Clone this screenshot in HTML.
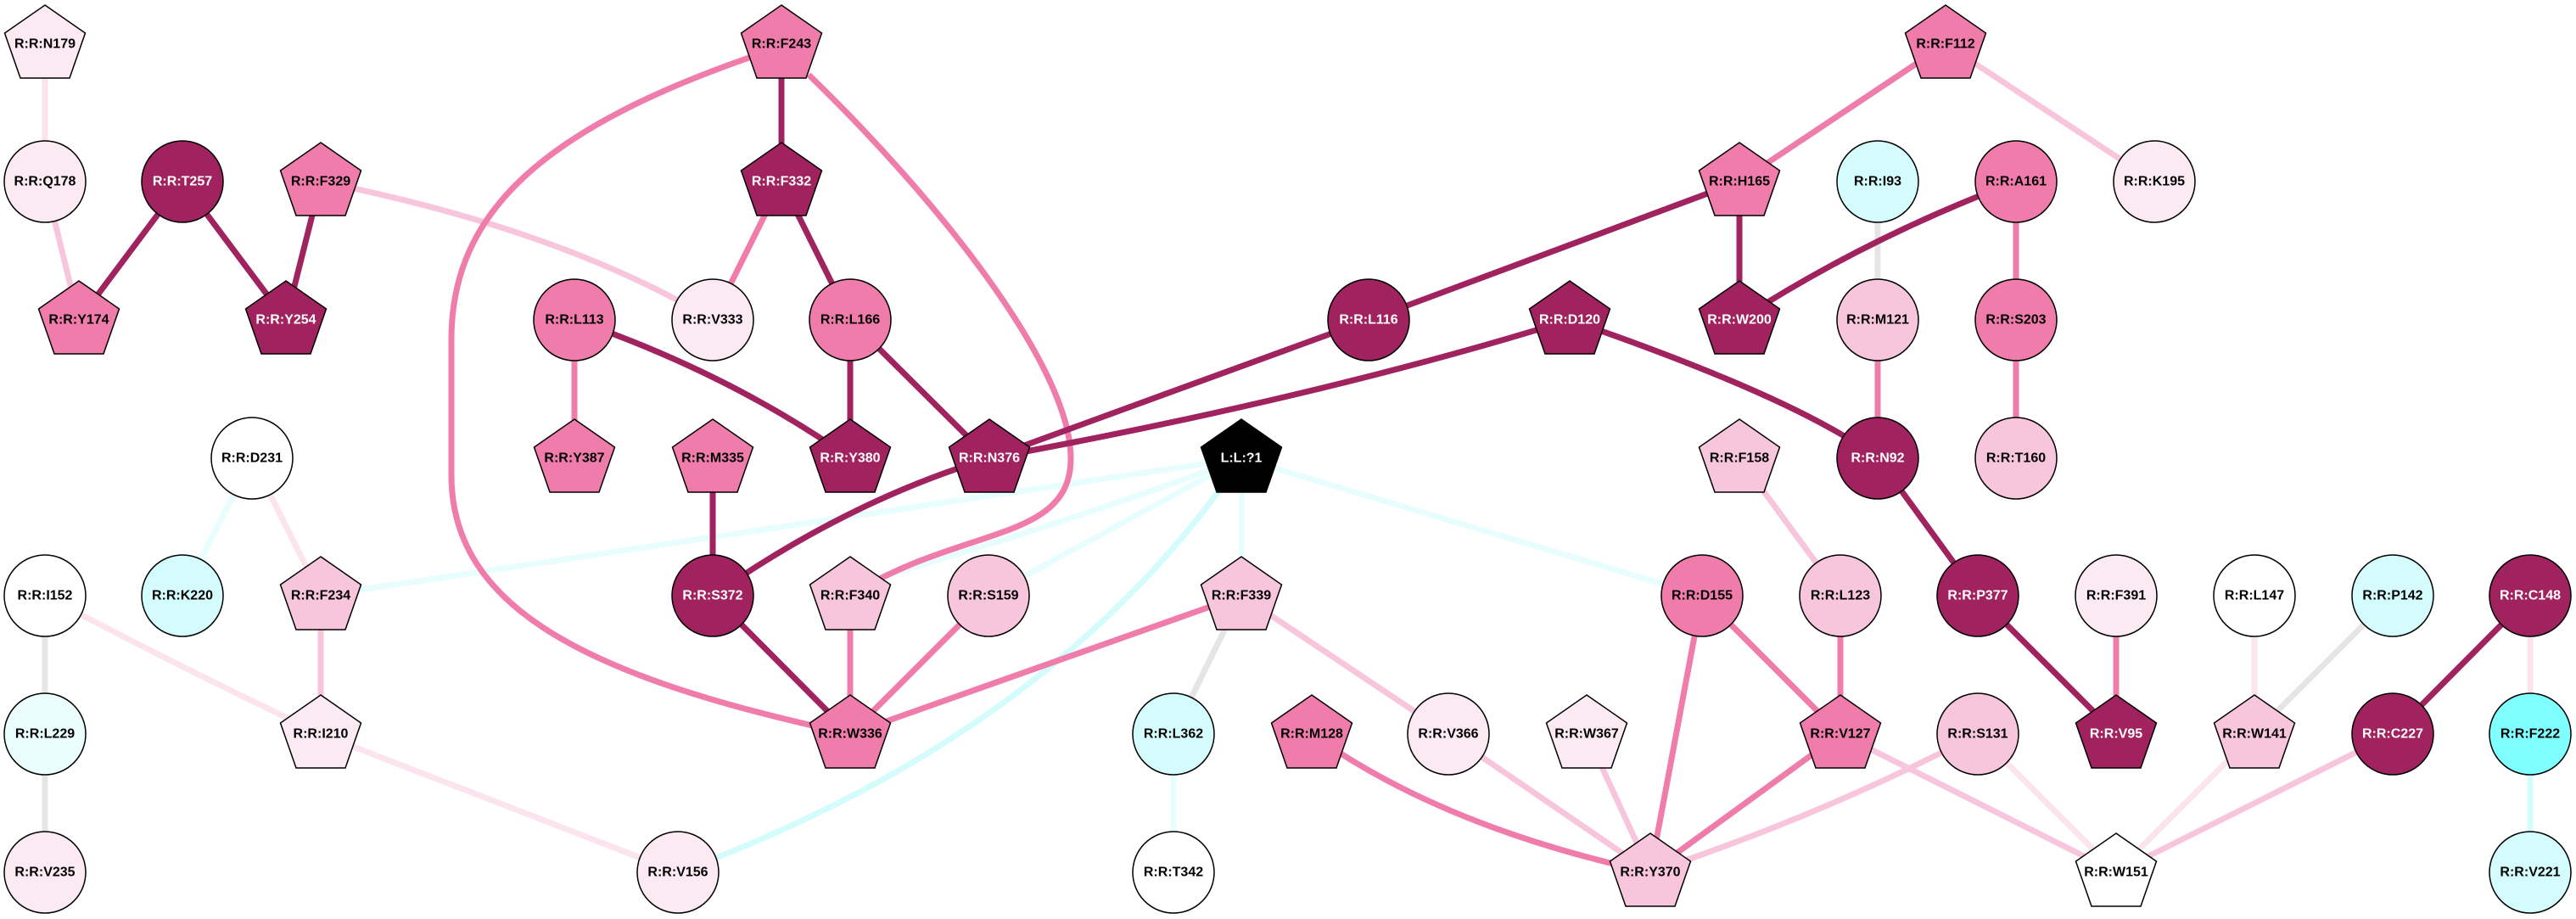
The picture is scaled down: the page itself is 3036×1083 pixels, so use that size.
<!DOCTYPE html>
<html><head><meta charset="utf-8"><style>
html,body{margin:0;padding:0;background:#fff;}
svg{display:block;}
text{font-family:"Liberation Sans",Arial,sans-serif;font-weight:bold;font-size:16px;text-anchor:middle;dominant-baseline:central;}
.w{fill:#fff;}
circle,polygon{stroke:#000;stroke-width:1.5;}
path,line{fill:none;}
</style></head><body>
<svg width="3036" height="1083" viewBox="0 0 3036 1083" xmlns="http://www.w3.org/2000/svg">
<defs>
<polygon id="pg" points="0,-46 47.5,-13 29,40 -29,40 -47.5,-13"/>
</defs>
<g stroke-linecap="butt">
<!-- grey -->
<g stroke="#e5e5e5" stroke-width="7">
<line x1="53" y1="702" x2="53" y2="865"/><line x1="53" y1="865" x2="53" y2="1028"/>
<line x1="1463" y1="702" x2="1383" y2="865"/><line x1="2820" y1="702" x2="2657" y2="865"/>
<line x1="2213" y1="214" x2="2213" y2="377"/>
</g>
<!-- cyan -->
<g stroke="#e8fdfd" stroke-width="7">
<line x1="1463" y1="540" x2="378" y2="702"/>
<path d="M1463,540 Q1250,620 1002,690"/>
<line x1="1463" y1="540" x2="1165" y2="702"/>
<line x1="1463" y1="540" x2="1463" y2="702"/>
<line x1="1463" y1="540" x2="2006" y2="702"/>
<line x1="297" y1="540" x2="215" y2="702"/>
<line x1="1383" y1="865" x2="1383" y2="1028"/>
</g>
<g stroke="#d4fcfc" stroke-width="7">
<path d="M1450,560 Q1230,870 799,1028"/>
<line x1="2982" y1="865" x2="2982" y2="1028"/>
</g>
<!-- very light pink -->
<g stroke="#fbe4ee" stroke-width="7">
<line x1="53" y1="52" x2="53" y2="214"/>
<path d="M53,702 Q200,780 378,865"/>
<line x1="378" y1="865" x2="799" y2="1028"/>
<line x1="297" y1="540" x2="378" y2="702"/>
<line x1="2331" y1="865" x2="2494" y2="1028"/>
<line x1="2657" y1="865" x2="2494" y2="1028"/>
<line x1="2657" y1="702" x2="2657" y2="865"/>
<line x1="2982" y1="702" x2="2982" y2="865"/>
</g>
<!-- light pink -->
<g stroke="#f8c6dc" stroke-width="7">
<line x1="53" y1="214" x2="93" y2="377"/>
<path d="M378,214 Q660,270 840,377"/>
<line x1="378" y1="702" x2="378" y2="865"/>
<line x1="1463" y1="702" x2="1707" y2="865"/>
<line x1="1707" y1="865" x2="1945" y2="1028"/>
<line x1="1870" y1="865" x2="1945" y2="1028"/>
<path d="M2331,865 Q2150,960 1945,1028"/>
<line x1="2169" y1="865" x2="2494" y2="1028"/>
<line x1="2820" y1="865" x2="2494" y2="1028"/>
<line x1="2050" y1="540" x2="2169" y2="702"/>
<line x1="2293" y1="52" x2="2539" y2="214"/>
</g>
<!-- pink -->
<g stroke="#ef7cab" stroke-width="7">
<path d="M900,62 C640,150 532,250 532,400 L532,560 C532,720 700,800 1002,865"/>
<path d="M953,88 C1100,230 1262,430 1262,540 C1262,640 1130,620 1002,702"/>
<line x1="921" y1="214" x2="840" y2="377"/>
<line x1="677" y1="377" x2="677" y2="540"/>
<line x1="1002" y1="702" x2="1002" y2="865"/>
<line x1="1165" y1="702" x2="1002" y2="865"/>
<line x1="1463" y1="702" x2="1002" y2="865"/>
<path d="M1546,865 Q1700,975 1945,1028"/>
<line x1="2006" y1="702" x2="1945" y2="1028"/>
<line x1="2006" y1="702" x2="2169" y2="865"/>
<line x1="2169" y1="865" x2="1945" y2="1028"/>
<line x1="2169" y1="702" x2="2169" y2="865"/>
<line x1="2494" y1="702" x2="2494" y2="865"/>
<line x1="2293" y1="52" x2="2050" y2="214"/>
<line x1="2213" y1="377" x2="2213" y2="540"/>
<line x1="2376" y1="214" x2="2376" y2="377"/>
<line x1="2376" y1="377" x2="2376" y2="540"/>
</g>
<!-- dark -->
<g stroke="#a0235f" stroke-width="7">
<line x1="215" y1="214" x2="93" y2="377"/>
<line x1="215" y1="214" x2="337" y2="377"/>
<line x1="378" y1="214" x2="337" y2="377"/>
<line x1="921" y1="52" x2="921" y2="214"/>
<line x1="921" y1="214" x2="1002" y2="377"/>
<path d="M677,377 Q860,440 1002,540"/>
<line x1="1002" y1="377" x2="1002" y2="540"/>
<line x1="1002" y1="377" x2="1166" y2="540"/>
<path d="M1166,540 Q1000,590 840,702"/>
<line x1="840" y1="540" x2="840" y2="702"/>
<line x1="840" y1="702" x2="1002" y2="865"/>
<line x1="1166" y1="540" x2="1613" y2="377"/>
<path d="M1166,540 Q1550,470 1850,377"/>
<line x1="1613" y1="377" x2="2050" y2="214"/>
<path d="M1850,377 Q2120,470 2213,540"/>
<line x1="2213" y1="540" x2="2331" y2="702"/>
<line x1="2331" y1="702" x2="2494" y2="865"/>
<line x1="2982" y1="702" x2="2820" y2="865"/>
<line x1="2050" y1="214" x2="2050" y2="377"/>
<path d="M2376,214 Q2200,280 2050,377"/>
</g>
</g>

<!-- nodes -->
<g>
<use href="#pg" x="53" y="52" fill="#fbeaf2" stroke="#000" stroke-width="1.5"/><text x="53" y="52">R:R:N179</text>
<circle cx="53" cy="214" r="48" fill="#fbeaf2"/><text x="53" y="214">R:R:Q178</text>
<circle cx="215" cy="214" r="48" fill="#a0235f"/><text class="w" x="215" y="214">R:R:T257</text>
<use href="#pg" x="378" y="214" fill="#ef7cab" stroke="#000" stroke-width="1.5"/><text x="378" y="214">R:R:F329</text>
<use href="#pg" x="93" y="377" fill="#ef7cab" stroke="#000" stroke-width="1.5"/><text x="93" y="377">R:R:Y174</text>
<use href="#pg" x="337" y="377" fill="#a0235f" stroke="#000" stroke-width="1.5"/><text class="w" x="337" y="377">R:R:Y254</text>
<use href="#pg" x="921" y="52" fill="#ef7cab" stroke="#000" stroke-width="1.5"/><text x="921" y="52">R:R:F243</text>
<use href="#pg" x="921" y="214" fill="#a0235f" stroke="#000" stroke-width="1.5"/><text class="w" x="921" y="214">R:R:F332</text>
<circle cx="840" cy="377" r="48" fill="#fbeaf2"/><text x="840" y="377">R:R:V333</text>
<circle cx="677" cy="377" r="48" fill="#ef7cab"/><text x="677" y="377">R:R:L113</text>
<circle cx="1002" cy="377" r="48" fill="#ef7cab"/><text x="1002" y="377">R:R:L166</text>
<use href="#pg" x="677" y="540" fill="#ef7cab" stroke="#000" stroke-width="1.5"/><text x="677" y="540">R:R:Y387</text>
<use href="#pg" x="840" y="540" fill="#ef7cab" stroke="#000" stroke-width="1.5"/><text x="840" y="540">R:R:M335</text>
<use href="#pg" x="1002" y="540" fill="#a0235f" stroke="#000" stroke-width="1.5"/><text class="w" x="1002" y="540">R:R:Y380</text>
<use href="#pg" x="1166" y="540" fill="#a0235f" stroke="#000" stroke-width="1.5"/><text class="w" x="1166" y="540">R:R:N376</text>
<use href="#pg" x="1463" y="540" fill="#000" stroke="#000" stroke-width="1.5"/><text class="w" x="1463" y="540">L:L:?1</text>
<circle cx="297" cy="540" r="48" fill="#fff"/><text x="297" y="540">R:R:D231</text>
<circle cx="215" cy="702" r="48" fill="#d4fcfc"/><text x="215" y="702">R:R:K220</text>
<use href="#pg" x="378" y="702" fill="#f8c6dc" stroke="#000" stroke-width="1.5"/><text x="378" y="702">R:R:F234</text>
<circle cx="53" cy="702" r="48" fill="#fff"/><text x="53" y="702">R:R:I152</text>
<circle cx="840" cy="702" r="48" fill="#a0235f"/><text class="w" x="840" y="702">R:R:S372</text>
<use href="#pg" x="1002" y="702" fill="#f8c6dc" stroke="#000" stroke-width="1.5"/><text x="1002" y="702">R:R:F340</text>
<circle cx="1165" cy="702" r="48" fill="#f8c6dc"/><text x="1165" y="702">R:R:S159</text>
<use href="#pg" x="1463" y="702" fill="#f8c6dc" stroke="#000" stroke-width="1.5"/><text x="1463" y="702">R:R:F339</text>
<circle cx="2006" cy="702" r="48" fill="#ef7cab"/><text x="2006" y="702">R:R:D155</text>
<circle cx="2169" cy="702" r="48" fill="#f8c6dc"/><text x="2169" y="702">R:R:L123</text>
<circle cx="2331" cy="702" r="48" fill="#a0235f"/><text class="w" x="2331" y="702">R:R:P377</text>
<circle cx="2494" cy="702" r="48" fill="#fbeaf2"/><text x="2494" y="702">R:R:F391</text>
<circle cx="2657" cy="702" r="48" fill="#fff"/><text x="2657" y="702">R:R:L147</text>
<circle cx="2820" cy="702" r="48" fill="#d4fcfc"/><text x="2820" y="702">R:R:P142</text>
<circle cx="2982" cy="702" r="48" fill="#a0235f"/><text class="w" x="2982" y="702">R:R:C148</text>
<circle cx="53" cy="865" r="48" fill="#eafefe"/><text x="53" y="865">R:R:L229</text>
<use href="#pg" x="378" y="865" fill="#fbeaf2" stroke="#000" stroke-width="1.5"/><text x="378" y="865">R:R:I210</text>
<use href="#pg" x="1002" y="865" fill="#ef7cab" stroke="#000" stroke-width="1.5"/><text x="1002" y="865">R:R:W336</text>
<circle cx="1383" cy="865" r="48" fill="#d4fcfc"/><text x="1383" y="865">R:R:L362</text>
<use href="#pg" x="1546" y="865" fill="#ef7cab" stroke="#000" stroke-width="1.5"/><text x="1546" y="865">R:R:M128</text>
<circle cx="1707" cy="865" r="48" fill="#fbeaf2"/><text x="1707" y="865">R:R:V366</text>
<use href="#pg" x="1870" y="865" fill="#fbeaf2" stroke="#000" stroke-width="1.5"/><text x="1870" y="865">R:R:W367</text>
<use href="#pg" x="2169" y="865" fill="#ef7cab" stroke="#000" stroke-width="1.5"/><text x="2169" y="865">R:R:V127</text>
<circle cx="2331" cy="865" r="48" fill="#f8c6dc"/><text x="2331" y="865">R:R:S131</text>
<use href="#pg" x="2494" y="865" fill="#a0235f" stroke="#000" stroke-width="1.5"/><text class="w" x="2494" y="865">R:R:V95</text>
<use href="#pg" x="2657" y="865" fill="#f8c6dc" stroke="#000" stroke-width="1.5"/><text x="2657" y="865">R:R:W141</text>
<circle cx="2820" cy="865" r="48" fill="#a0235f"/><text class="w" x="2820" y="865">R:R:C227</text>
<circle cx="2982" cy="865" r="48" fill="#80ffff"/><text x="2982" y="865">R:R:F222</text>
<circle cx="53" cy="1028" r="48" fill="#fbeaf2"/><text x="53" y="1028">R:R:V235</text>
<circle cx="799" cy="1028" r="48" fill="#fbeaf2"/><text x="799" y="1028">R:R:V156</text>
<circle cx="1383" cy="1028" r="48" fill="#fff"/><text x="1383" y="1028">R:R:T342</text>
<use href="#pg" x="1945" y="1028" fill="#f8c6dc" stroke="#000" stroke-width="1.5"/><text x="1945" y="1028">R:R:Y370</text>
<use href="#pg" x="2494" y="1028" fill="#fff" stroke="#000" stroke-width="1.5"/><text x="2494" y="1028">R:R:W151</text>
<circle cx="2982" cy="1028" r="48" fill="#d4fcfc"/><text x="2982" y="1028">R:R:V221</text>
<circle cx="1613" cy="377" r="48" fill="#a0235f"/><text class="w" x="1613" y="377">R:R:L116</text>
<use href="#pg" x="1850" y="377" fill="#a0235f" stroke="#000" stroke-width="1.5"/><text class="w" x="1850" y="377">R:R:D120</text>
<use href="#pg" x="2293" y="52" fill="#ef7cab" stroke="#000" stroke-width="1.5"/><text x="2293" y="52">R:R:F112</text>
<use href="#pg" x="2050" y="214" fill="#ef7cab" stroke="#000" stroke-width="1.5"/><text x="2050" y="214">R:R:H165</text>
<circle cx="2213" cy="214" r="48" fill="#d4fcfc"/><text x="2213" y="214">R:R:I93</text>
<circle cx="2376" cy="214" r="48" fill="#ef7cab"/><text x="2376" y="214">R:R:A161</text>
<circle cx="2539" cy="214" r="48" fill="#fbeaf2"/><text x="2539" y="214">R:R:K195</text>
<use href="#pg" x="2050" y="377" fill="#a0235f" stroke="#000" stroke-width="1.5"/><text class="w" x="2050" y="377">R:R:W200</text>
<circle cx="2213" cy="377" r="48" fill="#f8c6dc"/><text x="2213" y="377">R:R:M121</text>
<circle cx="2376" cy="377" r="48" fill="#ef7cab"/><text x="2376" y="377">R:R:S203</text>
<use href="#pg" x="2050" y="540" fill="#f8c6dc" stroke="#000" stroke-width="1.5"/><text x="2050" y="540">R:R:F158</text>
<circle cx="2213" cy="540" r="48" fill="#a0235f"/><text class="w" x="2213" y="540">R:R:N92</text>
<circle cx="2376" cy="540" r="48" fill="#f8c6dc"/><text x="2376" y="540">R:R:T160</text>
</g>
</svg>
</body></html>
